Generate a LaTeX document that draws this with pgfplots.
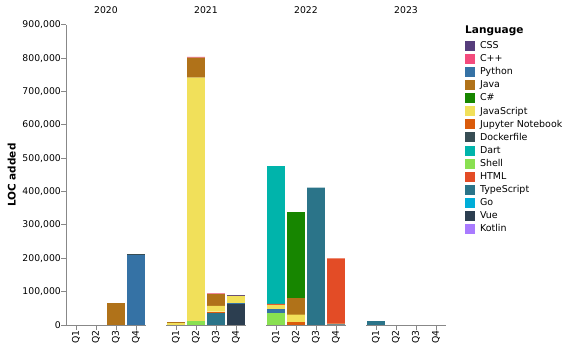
\documentclass[border=0pt]{standalone}
\usepackage{pgfplots}
\pgfplotsset{compat=1.18}
\usepackage{pgfplotstable}
\usepackage{fontspec}
\setmainfont{DejaVu Sans}
\definecolor{cssc}{HTML}{563D7C}
\definecolor{cppc}{HTML}{F34B7D}
\definecolor{pyc}{HTML}{3572A5}
\definecolor{javac}{HTML}{B07219}
\definecolor{csc}{HTML}{178600}
\definecolor{jsc}{HTML}{F1E05A}
\definecolor{jupc}{HTML}{DA5B0B}
\definecolor{dockc}{HTML}{384D54}
\definecolor{dartc}{HTML}{00B4AB}
\definecolor{shc}{HTML}{89E051}
\definecolor{htmlc}{HTML}{E34C26}
\definecolor{tsc}{HTML}{2B7489}
\definecolor{goc}{HTML}{00ADD8}
\definecolor{vuec}{HTML}{2C3E50}
\definecolor{ktc}{HTML}{A97BFF}
\definecolor{axgray}{HTML}{888888}
\newcommand{\tickfont}{\fontsize{9.3}{11}\selectfont}

% columns in stacking order (bottom to top)
\pgfplotstableread{
x Vue TS Shell Py Kt Jup JS Java HTML Go Dock Dart CSS Cpp Cs
0 0 0 0 0 0 0 0 0 0 0 0 0 0 0 0
1 0 0 0 0 0 0 0 0 0 0 0 0 0 0 0
2 0 0 0 0 0 0 0 65000 0 0 0 0 0 0 0
3 0 0 0 211000 0 0 0 0 0 0 2000 0 0 0 0
}\ytwenty
\pgfplotstableread{
x Vue TS Shell Py Kt Jup JS Java HTML Go Dock Dart CSS Cpp Cs
0 0 0 0 0 0 0 6000 3000 0 0 0 0 0 0 0
1 0 0 12000 0 0 0 730000 60000 0 0 0 0 0 2000 0
2 0 37000 0 0 0 3000 17000 36000 0 0 0 0 0 2000 0
3 62000 0 0 3000 0 0 22000 0 0 0 0 0 1500 0 0
}\ytwentyone
\pgfplotstableread{
x Vue TS Shell Py Kt Jup JS Java HTML Go Dock Dart CSS Cpp Cs
0 0 0 37000 10000 0 0 13000 0 3000 0 0 414000 0 0 0
1 0 0 0 0 0 9000 22000 49000 0 0 0 0 0 0 260000
2 0 412000 0 0 0 0 0 0 0 0 0 0 0 0 0
3 0 2000 0 0 0 2000 0 0 196000 0 0 0 0 0 0
}\ytwentytwo
\pgfplotstableread{
x Vue TS Shell Py Kt Jup JS Java HTML Go Dock Dart CSS Cpp Cs
0 0 12000 0 0 0 0 0 0 0 0 0 0 0 0 0
1 0 0 0 0 0 0 0 0 0 0 0 0 0 0 0
2 0 0 0 0 0 0 0 0 0 0 0 0 0 0 0
3 0 0 0 0 0 0 0 0 0 0 0 0 0 0 0
}\ytwentythree

\newcommand{\stackall}[1]{%
\addplot[fill=vuec] table[x=x,y=Vue]{#1};
\addplot[fill=tsc] table[x=x,y=TS]{#1};
\addplot[fill=shc] table[x=x,y=Shell]{#1};
\addplot[fill=pyc] table[x=x,y=Py]{#1};
\addplot[fill=ktc] table[x=x,y=Kt]{#1};
\addplot[fill=jupc] table[x=x,y=Jup]{#1};
\addplot[fill=jsc] table[x=x,y=JS]{#1};
\addplot[fill=javac] table[x=x,y=Java]{#1};
\addplot[fill=htmlc] table[x=x,y=HTML]{#1};
\addplot[fill=goc] table[x=x,y=Go]{#1};
\addplot[fill=dockc] table[x=x,y=Dock]{#1};
\addplot[fill=dartc] table[x=x,y=Dart]{#1};
\addplot[fill=cssc] table[x=x,y=CSS]{#1};
\addplot[fill=cppc] table[x=x,y=Cpp]{#1};
\addplot[fill=csc] table[x=x,y=Cs]{#1};
}

\pgfplotsset{panel/.style={
  scale only axis, width=80bp, height=300bp,
  anchor=south west,
  xmin=-0.5, xmax=3.5, ymin=0, ymax=900000,
  scaled y ticks=false,
  ybar stacked, bar width=17.6bp,
  xtick={0,1,2,3}, xticklabels={Q1,Q2,Q3,Q4},
  xticklabel style={rotate=90, anchor=east, font=\tickfont, inner sep=0pt},
  axis x line*=bottom,
  axis line style={draw=axgray, line width=1bp, -},
  tick style={draw=axgray, line width=1bp},
  major tick length=5bp, tick align=outside,
  every axis plot/.append style={draw=none},
}}

\begin{document}
\begin{tikzpicture}
\path[use as bounding box] (0,0) rectangle (570bp,351bp);

\begin{axis}[panel, at={(66bp,26bp)},
  axis y line*=left,
  ytick={0,100000,200000,300000,400000,500000,600000,700000,800000,900000},
  yticklabels={0,{100,000},{200,000},{300,000},{400,000},{500,000},{600,000},{700,000},{800,000},{900,000}},
  yticklabel style={font=\tickfont, inner sep=0pt, anchor=east}]
\stackall{\ytwenty}
\end{axis}

\begin{axis}[panel, at={(166bp,26bp)}, axis y line=none]
\stackall{\ytwentyone}
\end{axis}

\begin{axis}[panel, at={(266bp,26bp)}, axis y line=none]
\stackall{\ytwentytwo}
\end{axis}

\begin{axis}[panel, at={(366bp,26bp)}, axis y line=none]
\stackall{\ytwentythree}
\end{axis}

\node[anchor=base, font=\tickfont, inner sep=0pt] at (106bp,337.7bp) {2020};
\node[anchor=base, font=\tickfont, inner sep=0pt] at (206bp,337.7bp) {2021};
\node[anchor=base, font=\tickfont, inner sep=0pt] at (306bp,337.7bp) {2022};
\node[anchor=base, font=\tickfont, inner sep=0pt] at (406bp,337.7bp) {2023};

\node[rotate=90, anchor=base, font=\bfseries\fontsize{10.5}{12}\selectfont, inner sep=0pt] at (15.5bp,176bp) {LOC added};
\node[anchor=base west, font=\bfseries\fontsize{10.6}{12}\selectfont, inner sep=0pt] at (465bp,317.5bp) {Language};

\begin{axis}[hide axis, scale only axis, width=1bp, height=1bp, xmin=0, xmax=1, ymin=0, ymax=1,
  anchor=north west, at={(465bp,311.8bp)},
  legend image code/.code={\fill[#1, draw=none] (0bp,-5bp) rectangle (10bp,5bp);},
  legend style={at={(0,1)}, anchor=north west, draw=none, fill=none, inner sep=0pt, outer sep=0pt,
    row sep=0pt, column sep=5bp, font=\fontsize{9.5}{11}\selectfont,
    nodes={inner sep=0pt, minimum height=13.1bp}},
  legend cell align=left]
\addlegendimage{fill=cssc}\addlegendentry{CSS}
\addlegendimage{fill=cppc}\addlegendentry{C++}
\addlegendimage{fill=pyc}\addlegendentry{Python}
\addlegendimage{fill=javac}\addlegendentry{Java}
\addlegendimage{fill=csc}\addlegendentry{C\#}
\addlegendimage{fill=jsc}\addlegendentry{JavaScript}
\addlegendimage{fill=jupc}\addlegendentry{Jupyter Notebook}
\addlegendimage{fill=dockc}\addlegendentry{Dockerfile}
\addlegendimage{fill=dartc}\addlegendentry{Dart}
\addlegendimage{fill=shc}\addlegendentry{Shell}
\addlegendimage{fill=htmlc}\addlegendentry{HTML}
\addlegendimage{fill=tsc}\addlegendentry{TypeScript}
\addlegendimage{fill=goc}\addlegendentry{Go}
\addlegendimage{fill=vuec}\addlegendentry{Vue}
\addlegendimage{fill=ktc}\addlegendentry{Kotlin}
\end{axis}
\end{tikzpicture}
\end{document}
